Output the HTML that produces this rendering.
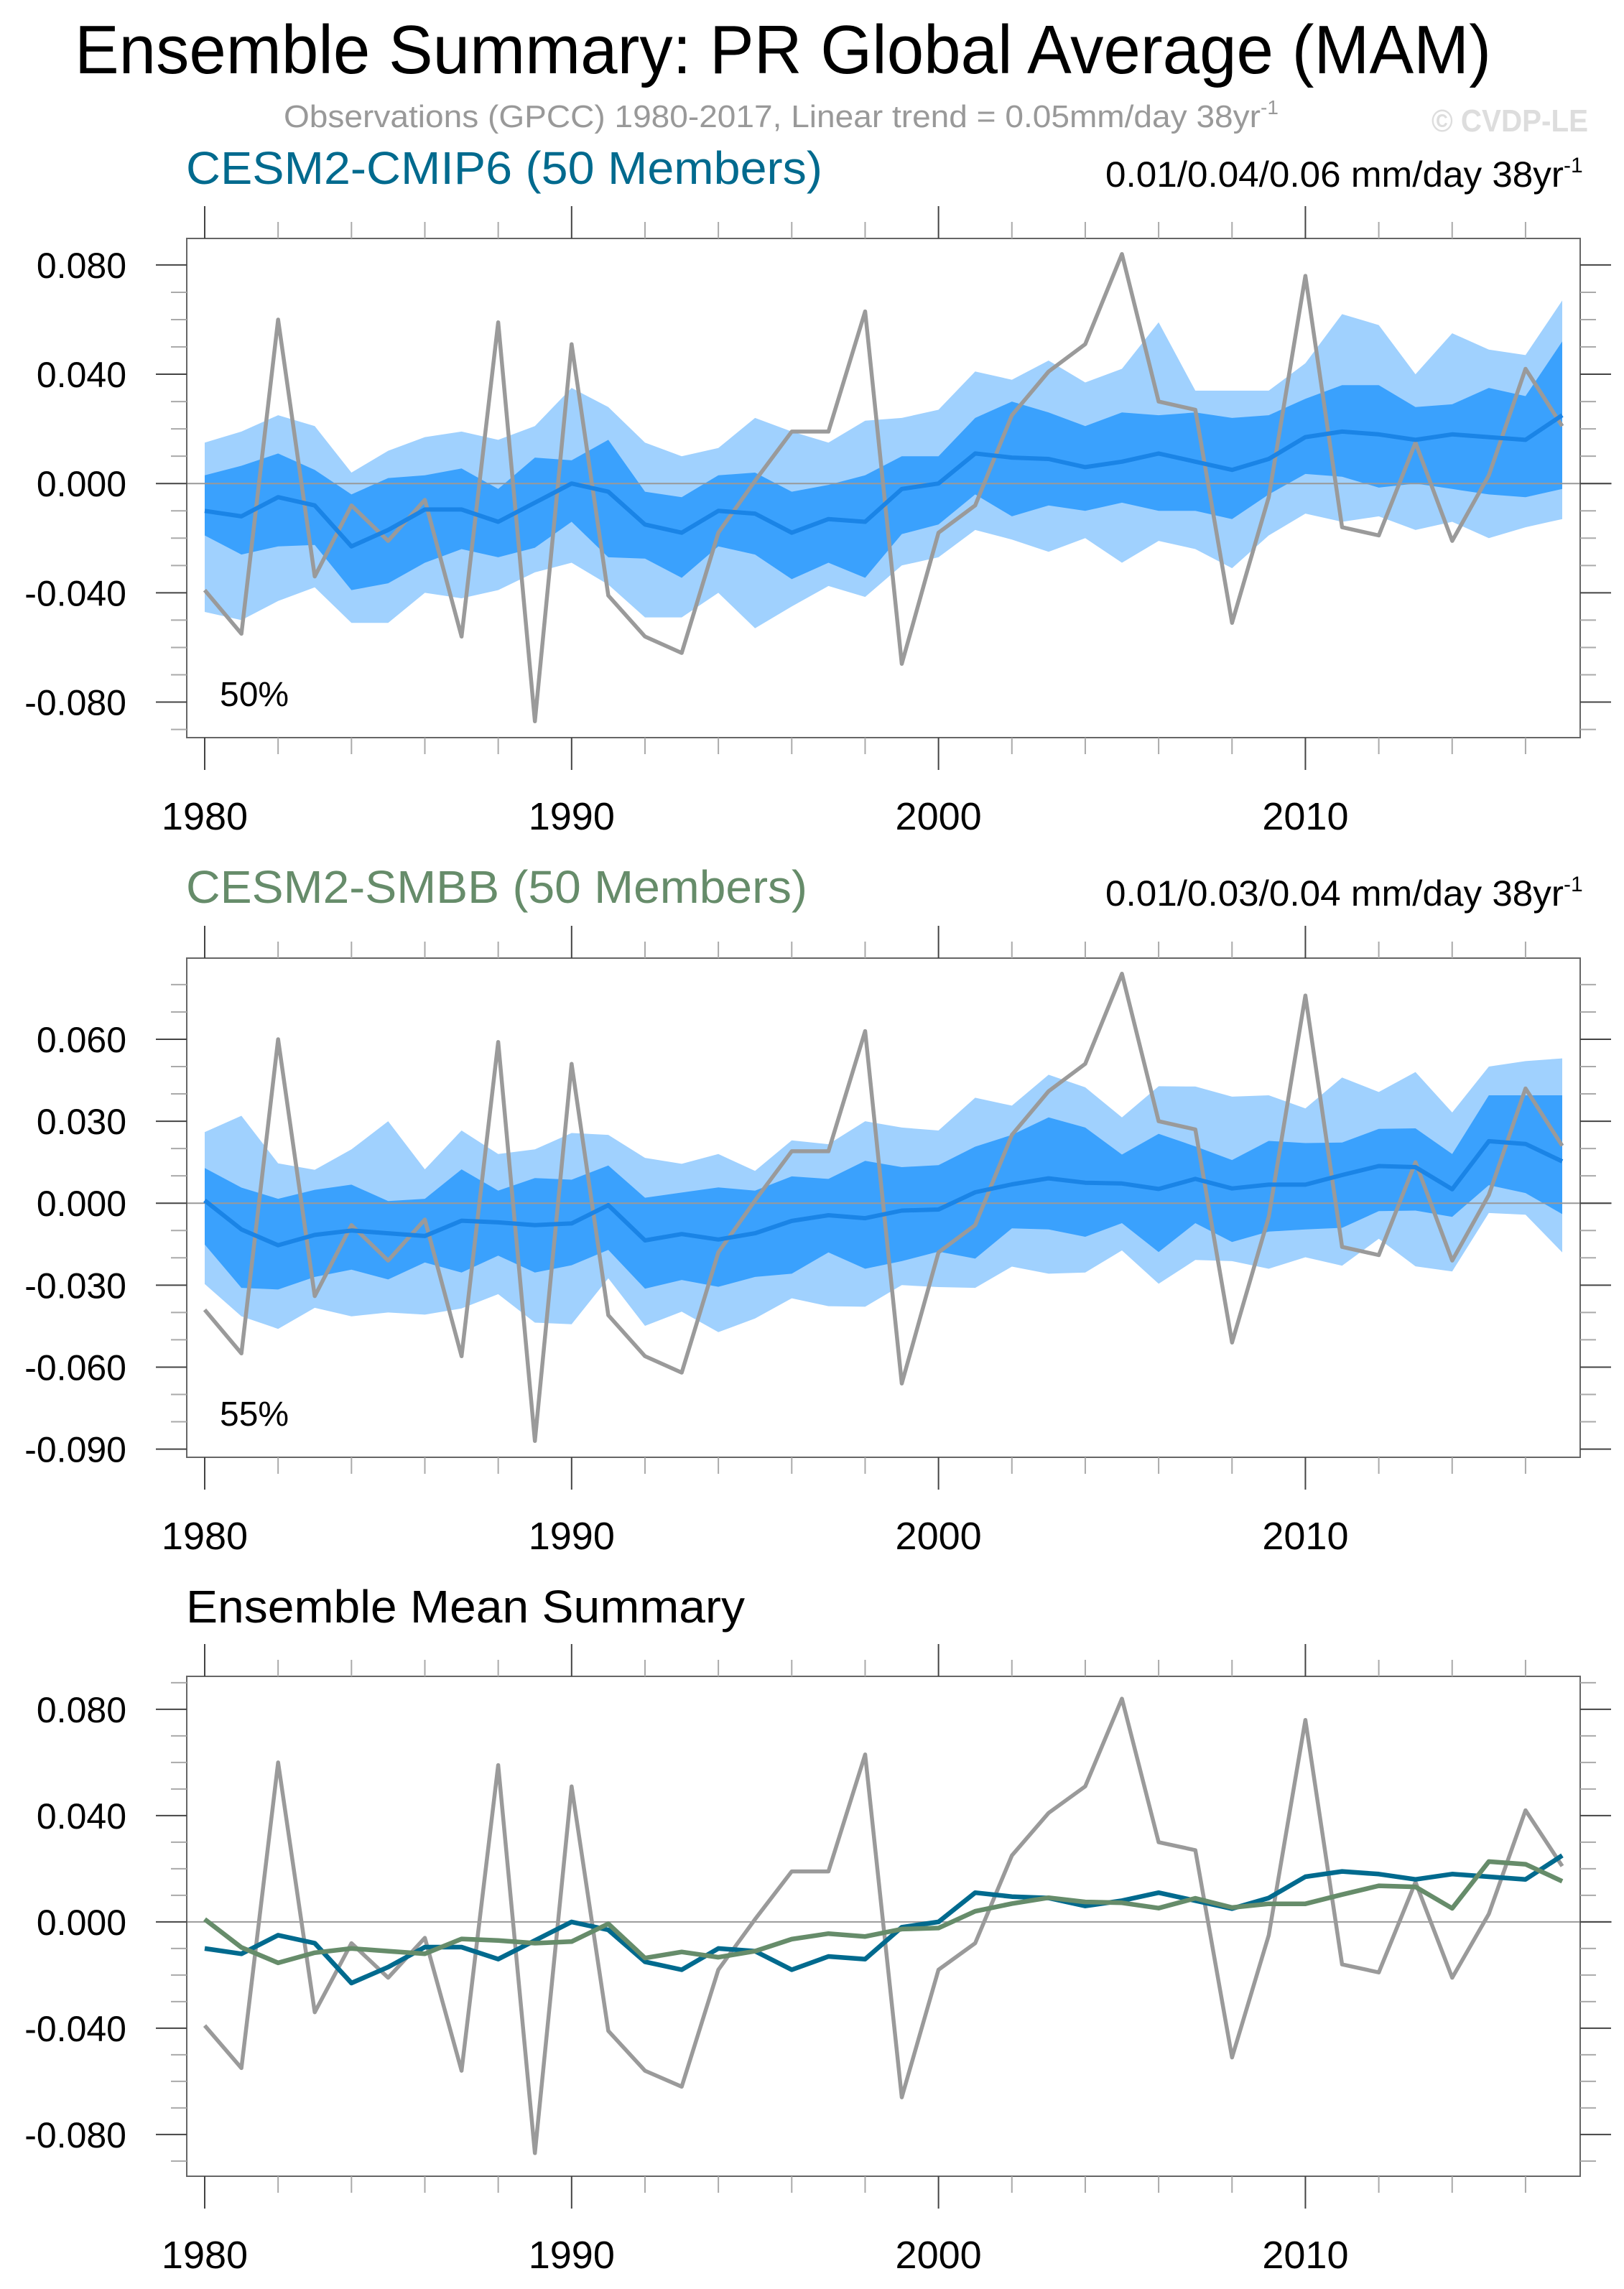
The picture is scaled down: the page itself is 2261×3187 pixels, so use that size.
<!DOCTYPE html>
<html><head><meta charset="utf-8">
<style>
html,body{margin:0;padding:0;background:#fff;}
svg{display:block;font-family:"Liberation Sans",sans-serif;}
</style></head>
<body>
<svg id="chart" width="2261" height="3187" viewBox="0 0 2261 3187" xmlns="http://www.w3.org/2000/svg">
<rect width="2261" height="3187" fill="#fff"/>
<text x="104" y="102" font-size="96" fill="#000" textLength="1972" lengthAdjust="spacingAndGlyphs">Ensemble Summary: PR Global Average (MAM)</text>
<text x="395" y="177" font-size="44" fill="#999"><tspan textLength="1360" lengthAdjust="spacingAndGlyphs">Observations (GPCC) 1980-2017, Linear trend = 0.05mm/day 38yr</tspan><tspan dy="-18" font-size="28">-1</tspan></text>
<text x="1993" y="183" font-size="44" font-weight="bold" fill="#dddddd" textLength="218" lengthAdjust="spacingAndGlyphs">© CVDP-LE</text>
<g id="panels"></g>
</svg>
<script>
var years = [];
for (var yr = 1980; yr <= 2017; yr++) years.push(yr);
var obs = [-0.039,-0.055,0.060,-0.034,-0.008,-0.021,-0.006,-0.056,0.059,-0.087,0.051,-0.041,-0.056,-0.062,-0.018,0.001,0.019,0.019,0.063,-0.066,-0.018,-0.008,0.025,0.041,0.051,0.084,0.030,0.027,-0.051,-0.005,0.076,-0.016,-0.019,0.015,-0.021,0.003,0.042,0.021];
var cmipMean = [-0.010,-0.012,-0.005,-0.008,-0.023,-0.017,-0.0095,-0.0095,-0.014,-0.007,0.000,-0.003,-0.015,-0.018,-0.010,-0.011,-0.018,-0.013,-0.014,-0.002,0.000,0.011,0.0095,0.009,0.006,0.008,0.011,0.008,0.005,0.009,0.017,0.019,0.018,0.016,0.018,0.017,0.016,0.025];
var cmipHi90 = [0.015,0.019,0.025,0.021,0.004,0.012,0.017,0.019,0.016,0.021,0.035,0.028,0.015,0.010,0.013,0.024,0.019,0.015,0.023,0.024,0.027,0.041,0.038,0.045,0.037,0.042,0.059,0.034,0.034,0.034,0.044,0.062,0.058,0.040,0.055,0.049,0.047,0.067];
var cmipHi67 = [0.003,0.0065,0.011,0.005,-0.004,0.002,0.003,0.0055,-0.002,0.0095,0.0085,0.016,-0.003,-0.005,0.003,0.004,-0.003,-0.0005,0.003,0.010,0.010,0.024,0.030,0.026,0.021,0.026,0.025,0.026,0.024,0.025,0.031,0.036,0.036,0.028,0.029,0.035,0.032,0.052];
var cmipLo67 = [-0.019,-0.026,-0.023,-0.0225,-0.039,-0.0365,-0.029,-0.024,-0.027,-0.0235,-0.014,-0.027,-0.0275,-0.0345,-0.023,-0.026,-0.035,-0.029,-0.0345,-0.0185,-0.015,-0.004,-0.012,-0.008,-0.010,-0.007,-0.010,-0.010,-0.013,-0.004,0.0035,0.0025,-0.0015,0.000,-0.002,-0.004,-0.005,-0.002];
var cmipLo90 = [-0.047,-0.050,-0.043,-0.038,-0.051,-0.051,-0.040,-0.042,-0.039,-0.0325,-0.029,-0.037,-0.049,-0.049,-0.040,-0.053,-0.045,-0.0375,-0.0415,-0.030,-0.027,-0.017,-0.0205,-0.025,-0.020,-0.029,-0.021,-0.024,-0.031,-0.019,-0.011,-0.014,-0.012,-0.017,-0.014,-0.020,-0.016,-0.013];
var smbbMean = [0.001,-0.0096,-0.0154,-0.0116,-0.010,-0.011,-0.012,-0.0064,-0.007,-0.008,-0.0074,-0.0007,-0.0136,-0.0113,-0.0133,-0.011,-0.0065,-0.0044,-0.0055,-0.0027,-0.0023,0.004,0.0069,0.0091,0.0075,0.0072,0.0052,0.0089,0.0054,0.0068,0.0068,0.0103,0.0136,0.0132,0.0051,0.0227,0.0217,0.0153];
var smbbHi90 = [0.026,0.032,0.0146,0.0122,0.0197,0.030,0.0124,0.0266,0.018,0.0197,0.0257,0.025,0.0166,0.0144,0.018,0.0118,0.023,0.0216,0.030,0.0277,0.0266,0.0386,0.0357,0.047,0.0424,0.0314,0.0428,0.0427,0.039,0.0395,0.0347,0.046,0.0407,0.048,0.0332,0.050,0.052,0.053];
var smbbHi67 = [0.0129,0.0057,0.0016,0.0049,0.0068,0.0008,0.0016,0.0124,0.0046,0.0092,0.0086,0.0138,0.002,0.0039,0.0058,0.0046,0.0098,0.0089,0.0155,0.0132,0.0139,0.0207,0.025,0.0314,0.0277,0.0178,0.0254,0.0208,0.0158,0.0228,0.022,0.0222,0.0272,0.0274,0.018,0.0395,0.0395,0.0395];
var smbbLo67 = [-0.0151,-0.031,-0.0316,-0.027,-0.0243,-0.0279,-0.0217,-0.0254,-0.0192,-0.0254,-0.0227,-0.0171,-0.0313,-0.0281,-0.0306,-0.027,-0.0258,-0.018,-0.024,-0.0212,-0.0177,-0.0203,-0.0092,-0.0096,-0.0123,-0.0073,-0.0179,-0.0073,-0.0142,-0.0104,-0.0096,-0.009,-0.0029,-0.0027,-0.005,0.0066,0.0037,-0.004];
var smbbLo90 = [-0.0296,-0.0414,-0.046,-0.0383,-0.0414,-0.040,-0.0408,-0.0385,-0.0333,-0.0437,-0.0443,-0.0275,-0.0449,-0.0397,-0.0472,-0.0422,-0.0348,-0.0377,-0.0379,-0.030,-0.0307,-0.031,-0.0232,-0.0258,-0.0254,-0.0173,-0.0295,-0.0208,-0.0212,-0.024,-0.0198,-0.0229,-0.013,-0.0231,-0.025,-0.0036,-0.0042,-0.018];
var ticks1 = [0.08,0.04,0,-0.04,-0.08];
var ticks2 = [0.06,0.03,0,-0.03,-0.06,-0.09];
var tickLabels1 = ["0.080","0.040","0.000","-0.040","-0.080"];
var tickLabels2 = ["0.060","0.030","0.000","-0.030","-0.060","-0.090"];
var yearTicks = [1980,1990,2000,2010];

var NS = "http://www.w3.org/2000/svg";
var root = document.getElementById("panels");
function mk(tag, attrs, parent) {
  var e = document.createElementNS(NS, tag);
  for (var k in attrs) e.setAttribute(k, attrs[k]);
  (parent || root).appendChild(e);
  return e;
}
var L = 260, R = 2200;
function xs(y) { return 285 + (y - 1980) * (2175 - 285) / 37; }

function panel(cfg) {
  var g = mk("g", {});
  
  
  var T = cfg.top, B = cfg.bottom, vmax = cfg.vmax, vmin = cfg.vmin;
  function ys(v) { return T + (vmax - v) / (vmax - vmin) * (B - T); }
  function band(hi, lo, color, nm) {
    var d = "";
    for (var i = 0; i < years.length; i++) d += (i ? "L" : "M") + xs(years[i]).toFixed(1) + "," + ys(hi[i]).toFixed(1);
    for (var i = years.length - 1; i >= 0; i--) d += "L" + xs(years[i]).toFixed(1) + "," + ys(lo[i]).toFixed(1);
    var p = mk("path", {d: d + "Z", fill: color}, g);
    
    
  }
  if (cfg.bands) {
    band(cfg.bands[0], cfg.bands[3], "#a0d1fe", "outer-spread-band");
    band(cfg.bands[1], cfg.bands[2], "#3aa1fd", "inner-spread-band");
  }
  var z = mk("line", {x1: L, x2: R + 44, y1: ys(0), y2: ys(0), stroke: "#999", "stroke-width": 2}, g);
  
  
  function line(vals, color, w, nm) {
    var d = "";
    for (var i = 0; i < years.length; i++) d += (i ? "L" : "M") + xs(years[i]).toFixed(1) + "," + ys(vals[i]).toFixed(1);
    var p = mk("path", {d: d, fill: "none", stroke: color, "stroke-width": w, "stroke-linejoin": "round"}, g);
    
    
  }
  for (var s = 0; s < cfg.lines.length; s++) line(cfg.lines[s][0], cfg.lines[s][1], cfg.lines[s][2], cfg.lines[s][3]);
  var fr = mk("rect", {x: L, y: T, width: R - L, height: B - T, fill: "none", stroke: "#666", "stroke-width": 2}, g);
  
  
  for (var yv = 1980; yv <= 2017; yv += 2) {
    var major = (yv % 10 === 0);
    var len = major ? 45 : 23;
    var c = major ? "#444" : "#aaa";
    mk("line", {x1: xs(yv), x2: xs(yv), y1: T, y2: T - len, stroke: c, "stroke-width": 2}, g);
    mk("line", {x1: xs(yv), x2: xs(yv), y1: B, y2: B + len, stroke: c, "stroke-width": 2}, g);
  }
  for (var i = 0; i < yearTicks.length; i++) {
    var t = mk("text", {x: xs(yearTicks[i]), y: B + 128, "font-size": 54, "text-anchor": "middle", fill: "#000"}, g);
    
    
    t.textContent = yearTicks[i];
  }
  var step = cfg.minor;
  for (var v = Math.ceil(vmin / step) * step; v <= vmax + 1e-9; v += step) {
    var isMaj = cfg.ticks.some(function (tk) { return Math.abs(tk - v) < 1e-6; });
    var len2 = isMaj ? 43 : 22;
    var c2 = isMaj ? "#444" : "#aaa";
    mk("line", {x1: L, x2: L - len2, y1: ys(v), y2: ys(v), stroke: c2, "stroke-width": 2}, g);
    mk("line", {x1: R, x2: R + len2, y1: ys(v), y2: ys(v), stroke: c2, "stroke-width": 2}, g);
  }
  for (var i = 0; i < cfg.ticks.length; i++) {
    var t2 = mk("text", {x: 176, y: ys(cfg.ticks[i]) + 18, "font-size": 50, "text-anchor": "end", fill: "#000"}, g);
    
    
    t2.textContent = cfg.tickLabels[i];
  }
  var tt = mk("text", {x: 259, y: cfg.titleY, "font-size": 64, fill: cfg.titleColor, textLength: cfg.titleW, lengthAdjust: "spacingAndGlyphs"}, g);
  
  
  tt.textContent = cfg.title;
  if (cfg.trend) {
    var tr = mk("text", {x: 1539, y: cfg.titleY + 4, "font-size": 50, fill: "#000"}, g);
    
    
    var s1 = mk("tspan", {textLength: 638, lengthAdjust: "spacingAndGlyphs"}, tr);
    s1.textContent = cfg.trend;
    var s2 = mk("tspan", {dy: -20, "font-size": 30}, tr);
    s2.textContent = "-1";
  }
  if (cfg.pct) {
    var pc = mk("text", {x: 306, y: B - 44, "font-size": 48, fill: "#000"}, g);
    
    
    pc.textContent = cfg.pct;
  }
}

panel({name: "cesm2-cmip6-panel", top: 332, bottom: 1027, vmax: 0.0897, vmin: -0.093, minor: 0.01,
  ticks: ticks1, tickLabels: tickLabels1, bands: [cmipHi90, cmipHi67, cmipLo67, cmipLo90],
  lines: [[obs, "#9a9a9a", 5.5, "observations-line"], [cmipMean, "#1a84e6", 6, "ensemble-mean-line"]],
  title: "CESM2-CMIP6 (50 Members)", titleColor: "#006a8e", titleW: 886, titleY: 256,
  trend: "0.01/0.04/0.06 mm/day 38yr", pct: "50%"});
panel({name: "cesm2-smbb-panel", top: 1334, bottom: 2029, vmax: 0.0897, vmin: -0.093, minor: 0.01,
  ticks: ticks2, tickLabels: tickLabels2, bands: [smbbHi90, smbbHi67, smbbLo67, smbbLo90],
  lines: [[obs, "#9a9a9a", 5.5, "observations-line"], [smbbMean, "#1a84e6", 6, "ensemble-mean-line"]],
  title: "CESM2-SMBB (50 Members)", titleColor: "#668c6a", titleW: 865, titleY: 1257,
  trend: "0.01/0.03/0.04 mm/day 38yr", pct: "55%"});
panel({name: "ensemble-mean-summary-panel", top: 2334, bottom: 3030, vmax: 0.0924, vmin: -0.0957, minor: 0.01,
  ticks: ticks1, tickLabels: tickLabels1, bands: null,
  lines: [[obs, "#9a9a9a", 5.5, "observations-line"], [cmipMean, "#006a8e", 6.5, "cesm2-cmip6-mean-line"], [smbbMean, "#668c6a", 6.5, "cesm2-smbb-mean-line"]],
  title: "Ensemble Mean Summary", titleColor: "#000", titleW: 778, titleY: 2259,
  trend: null, pct: null});
</script>
</body></html>
